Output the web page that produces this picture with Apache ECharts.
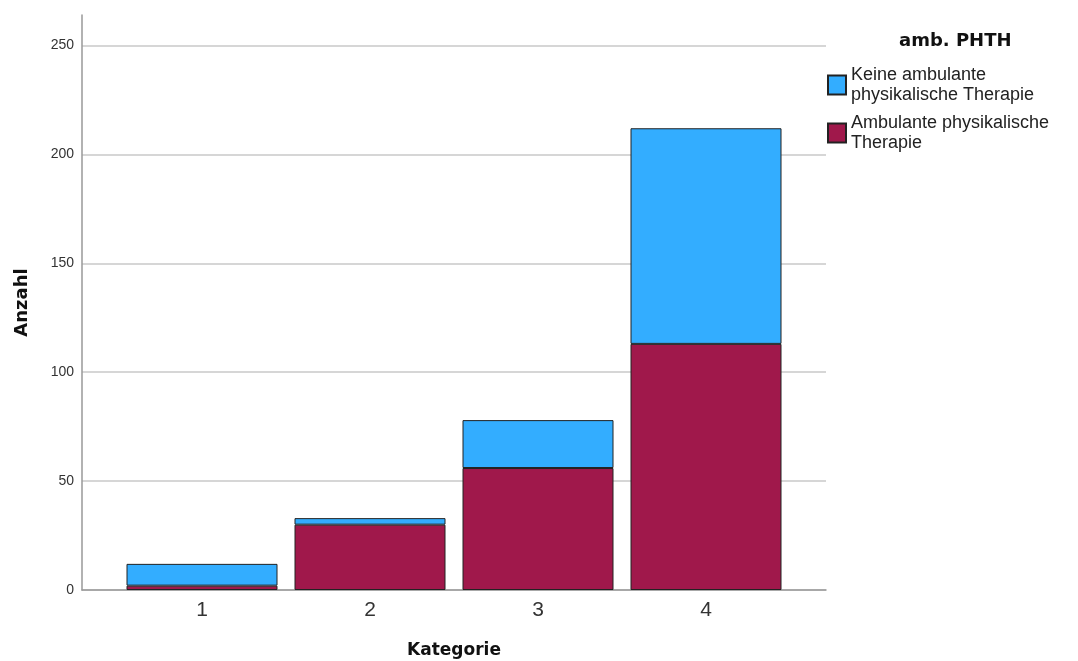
<!DOCTYPE html>
<html>
<head>
<meta charset="utf-8">
<script src="https://cdn.jsdelivr.net/npm/echarts@6/dist/echarts.min.js"></script>
<style>html,body{margin:0;padding:0;background:#fff;}#c{width:1078px;height:661px;}</style>
</head>
<body>
<div id="c"></div>
<script>
const categories = ['1', '2', '3', '4'];
const ambulant = [2, 30, 56, 113];
const keineAmbulant = [10, 3, 22, 99];
const yTicks = [0, 50, 100, 150, 200, 250];
const seriesNames = ['Keine ambulante physikalische Therapie', 'Ambulante physikalische Therapie'];
const legendLabels = {
  'Keine ambulante physikalische Therapie': 'Keine ambulante\nphysikalische Therapie',
  'Ambulante physikalische Therapie': 'Ambulante physikalische\nTherapie'
};

const chart = echarts.init(document.getElementById('c'));
const font = 'Liberation Sans, Arial, sans-serif';
const boldFont = 'DejaVu Sans, Liberation Sans, sans-serif';
chart.setOption({
  animation: false,
  textStyle: { fontFamily: font },
  title: {
    text: 'amb. PHTH', left: 899, top: 32, padding: 0,
    textStyle: { fontSize: 18, fontWeight: 'bold', color: '#111', fontFamily: boldFont }
  },
  legend: {
    data: seriesNames,
    orient: 'vertical', left: 827, top: 65, padding: 0,
    itemWidth: 18, itemHeight: 19, itemGap: 8,
    icon: 'rect',
    formatter: n => legendLabels[n],
    textStyle: { fontSize: 18, lineHeight: 20, color: '#222', fontFamily: font }
  },
  grid: [
    { left: 82, right: 252, top: 15, bottom: 71, outerBoundsMode: 'none' },
    { left: 118, right: 288, top: 15, bottom: 71, outerBoundsMode: 'none' }
  ],
  xAxis: [
    {
      type: 'value', gridIndex: 0, min: 0, max: 1,
      name: 'Kategorie', nameLocation: 'middle', nameGap: 52,
      nameTextStyle: { fontSize: 17, fontWeight: 'bold', color: '#111', fontFamily: boldFont },
      axisLine: { show: true, lineStyle: { color: '#999', width: 1.5 } },
      axisTick: { show: false }, axisLabel: { show: false }, splitLine: { show: false }
    },
    {
      type: 'category', gridIndex: 1, data: categories,
      axisLine: { show: false }, axisTick: { show: false },
      axisLabel: { fontSize: 21, color: '#333', margin: 10, fontFamily: font }
    }
  ],
  yAxis: [
    {
      type: 'value', gridIndex: 0, min: 0, max: 264, interval: 50,
      name: 'Anzahl', nameLocation: 'middle', nameGap: 51, nameRotate: 90,
      nameTextStyle: { fontSize: 18, fontWeight: 'bold', color: '#111', fontFamily: boldFont },
      axisLine: { show: true, lineStyle: { color: '#999', width: 1.5 } },
      axisTick: { show: false },
      axisLabel: { fontSize: 14, color: '#333', margin: 8, showMaxLabel: false, fontFamily: font,
        formatter: v => (yTicks.indexOf(v) >= 0 ? String(v) : '') },
      splitLine: { show: true, showMaxLine: false, lineStyle: { color: '#d6d6d6', width: 2 } }
    },
    {
      type: 'value', gridIndex: 1, min: 0, max: 264, show: false, splitLine: { show: false }
    }
  ],
  series: [
    {
      name: seriesNames[1], type: 'bar', stack: 'total', xAxisIndex: 1, yAxisIndex: 1,
      data: ambulant, barWidth: 151,
      itemStyle: { color: '#a0184b', borderColor: '#222', borderWidth: 1 }
    },
    {
      name: seriesNames[0], type: 'bar', stack: 'total', xAxisIndex: 1, yAxisIndex: 1,
      data: keineAmbulant, barWidth: 151,
      itemStyle: { color: '#33adff', borderColor: '#222', borderWidth: 1 }
    }
  ]
});
</script>
</body>
</html>
